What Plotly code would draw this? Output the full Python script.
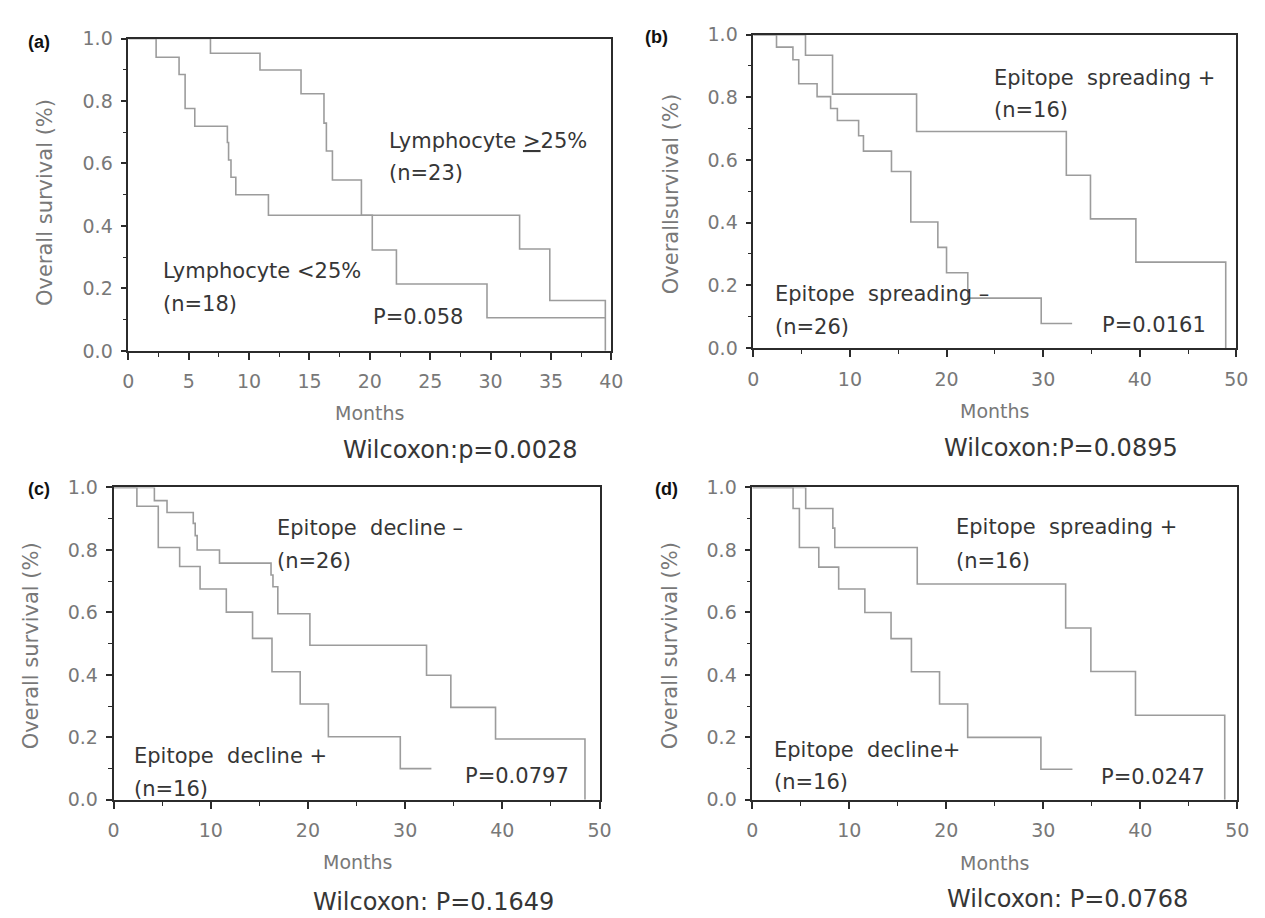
import plotly.graph_objects as go

W, H = 1265, 918

# ---------------- data ----------------
# Panel (a)
a_low_t = [0, 2.3, 4.2, 4.7, 5.5, 8.2, 8.3, 8.5, 8.9, 11.6, 32.4, 34.9, 39.5]
a_low_s = [1.0, 0.94, 0.885, 0.776, 0.719, 0.667, 0.611, 0.556, 0.5, 0.434, 0.326, 0.161, 0.0]
a_high_t = [0, 6.8, 10.9, 14.3, 16.2, 16.4, 16.9, 19.3, 20.2, 22.2, 29.7, 39.5]
a_high_s = [1.0, 0.953, 0.899, 0.823, 0.729, 0.64, 0.547, 0.434, 0.323, 0.214, 0.106, 0.106]

# Panel (b)
b_minus_t = [0, 2.4, 4.1, 4.7, 6.6, 8.0, 8.7, 10.9, 11.4, 14.3, 16.3, 19.1, 20.0, 22.2, 29.8, 33.0]
b_minus_s = [1.0, 0.96, 0.92, 0.843, 0.802, 0.764, 0.726, 0.677, 0.628, 0.563, 0.402, 0.321, 0.24, 0.159, 0.078, 0.078]
b_plus_t = [0, 5.4, 8.2, 16.9, 32.4, 34.9, 39.6, 48.9]
b_plus_s = [1.0, 0.934, 0.81, 0.691, 0.551, 0.412, 0.274, 0.0]

# Panel (c)
c_minus_t = [0, 4.2, 5.5, 8.2, 8.4, 8.6, 10.9, 16.2, 16.4, 16.9, 20.2, 32.2, 34.7, 39.3, 48.5]
c_minus_s = [1.0, 0.958, 0.92, 0.885, 0.846, 0.80, 0.758, 0.72, 0.682, 0.596, 0.495, 0.399, 0.296, 0.195, 0.0]
c_plus_t = [0, 2.4, 4.6, 6.8, 8.9, 11.6, 14.3, 16.3, 19.2, 22.1, 29.5, 32.7]
c_plus_s = [1.0, 0.94, 0.808, 0.747, 0.675, 0.601, 0.517, 0.41, 0.307, 0.202, 0.1, 0.1]

# Panel (d)
d_plus_t = [0, 5.5, 8.3, 8.5, 17.0, 32.3, 34.9, 39.5, 48.7]
d_plus_s = [1.0, 0.933, 0.87, 0.808, 0.691, 0.55, 0.411, 0.271, 0.0]
d_decl_t = [0, 4.2, 4.85, 6.85, 8.9, 11.6, 14.3, 16.4, 19.3, 22.2, 29.75, 33.0]
d_decl_s = [1.0, 0.933, 0.808, 0.745, 0.675, 0.60, 0.516, 0.41, 0.307, 0.20, 0.098, 0.098]

y_ticks = [0.0, 0.2, 0.4, 0.6, 0.8, 1.0]
y_tick_labels = ["0.0", "0.2", "0.4", "0.6", "0.8", "1.0"]
x_ticks_a = [0, 5, 10, 15, 20, 25, 30, 35, 40]
x_ticks_bcd = [0, 10, 20, 30, 40, 50]

# ---------------- layout helpers ----------------
def px(x):
    return x / W

def py(y):
    return 1 - y / H

FONT = "DejaVu Sans"
CURVE = "#9c9c9c"
AXIS = "#2b2b2b"
TICKC = "#787878"
TEXTC = "#363636"

# pixel boxes: left, right, top, bottom
boxes = {
    "a": (116, 606, 20, 340),
    "b": (750, 1240, 16, 337),
    "c": (101, 594, 480, 800),
    "d": (749, 1241, 480, 800),
}

fig = go.Figure()

curves = [
    ("a", a_low_t, a_low_s), ("a", a_high_t, a_high_s),
    ("b", b_minus_t, b_minus_s), ("b", b_plus_t, b_plus_s),
    ("c", c_minus_t, c_minus_s), ("c", c_plus_t, c_plus_s),
    ("d", d_plus_t, d_plus_s), ("d", d_decl_t, d_decl_s),
]
axmap = {"a": ("x", "y"), "b": ("x2", "y2"), "c": ("x3", "y3"), "d": ("x4", "y4")}

for p, t, s in curves:
    xa, ya = axmap[p]
    fig.add_trace(go.Scatter(x=t, y=s, mode="lines", line=dict(color=CURVE, width=1.6, shape="hv"),
                             xaxis=xa, yaxis=ya, showlegend=False, hoverinfo="skip"))

layout = dict(width=W, height=H, margin=dict(l=0, r=0, t=0, b=0), paper_bgcolor="white",
              plot_bgcolor="white", showlegend=False)

for i, p in enumerate(["a", "b", "c", "d"]):
    l, r, t, b = boxes[p]
    suffix = "" if i == 0 else str(i + 1)
    xmax = 40 if p == "a" else 50
    xt = x_ticks_a if p == "a" else x_ticks_bcd
    minor_dx = 2.5 if p == "a" else 5
    layout["xaxis" + suffix] = dict(
        domain=[px(l), px(r)], anchor="y" + suffix, range=[0, xmax],
        showline=True, linecolor=AXIS, linewidth=1.6, mirror=True,
        ticks="outside", ticklen=7, tickwidth=1.5, tickcolor=AXIS,
        tickvals=xt, ticktext=[str(v) for v in xt],
        minor=dict(dtick=minor_dx, ticks="outside", ticklen=4, tickwidth=1.3, tickcolor=AXIS),
        tickfont=dict(family=FONT, size=19, color=TICKC), ticklabelstandoff=6,
        showgrid=False, zeroline=False, fixedrange=True,
    )
    layout["yaxis" + suffix] = dict(
        domain=[py(b), py(t)], anchor="x" + suffix, range=[0, 1],
        showline=True, linecolor=AXIS, linewidth=1.6, mirror=True,
        ticks="outside", ticklen=6, tickwidth=1.5, tickcolor=AXIS,
        tickvals=y_ticks, ticktext=y_tick_labels,
        minor=dict(dtick=0.1, ticks="outside", ticklen=4, tickwidth=1.3, tickcolor=AXIS),
        tickfont=dict(family=FONT, size=19, color=TICKC), ticklabelstandoff=4,
        showgrid=False, zeroline=False, fixedrange=True,
    )

fig.update_layout(**layout)

ann = []

def dtext(p, x, y, text, size=21, color=TEXTC):
    xa, ya = axmap[p]
    ann.append(dict(xref=xa, yref=ya, x=x, y=y, text=text, showarrow=False,
                    xanchor="left", yanchor="middle",
                    font=dict(family=FONT, size=size, color=color)))

def ptext(x, y, text, size=19, color=TICKC, xanchor="center", angle=0, family=FONT):
    ann.append(dict(xref="paper", yref="paper", x=px(x), y=py(y), text=text, showarrow=False,
                    xanchor=xanchor, yanchor="middle", textangle=angle,
                    font=dict(family=family, size=size, color=color)))

# inner labels
dtext("a", 21.4, 0.672, "Lymphocyte <u>&gt;</u>25%")
dtext("a", 21.4, 0.568, "(n=23)")
dtext("a", 2.7, 0.255, "Lymphocyte &lt;25%")
dtext("a", 2.7, 0.151, "(n=18)")
dtext("a", 20.1, 0.109, "P=0.058")

dtext("b", 24.7, 0.863, "Epitope\u00a0 spreading +")
dtext("b", 24.7, 0.759, "(n=16)")
dtext("b", 2.0, 0.172, "Epitope\u00a0 spreading –")
dtext("b", 2.0, 0.068, "(n=26)")
dtext("b", 35.9, 0.073, "P=0.0161")

dtext("c", 16.6, 0.87, "Epitope\u00a0 decline –")
dtext("c", 16.6, 0.766, "(n=26)")
dtext("c", 1.9, 0.139, "Epitope\u00a0 decline +")
dtext("c", 1.9, 0.036, "(n=16)")
dtext("c", 35.9, 0.075, "P=0.0797")

dtext("d", 20.8, 0.875, "Epitope\u00a0 spreading +")
dtext("d", 20.8, 0.766, "(n=16)")
dtext("d", 2.0, 0.158, "Epitope\u00a0 decline+")
dtext("d", 2.0, 0.057, "(n=16)")
dtext("d", 35.7, 0.073, "P=0.0247")

# axis titles
ptext(361, 404, "Months")
ptext(995, 402, "Months")
ptext(348, 864, "Months")
ptext(995, 865, "Months")

ptext(32, 188, "Overall survival (%)", size=21, angle=-90)
ptext(666, 180, "Overallsurvival (%)", size=21, angle=-90)
ptext(17, 642, "Overall survival (%)", size=21, angle=-90)
ptext(665, 642, "Overall survival (%)", size=21, angle=-90)

# Wilcoxon lines
ptext(452, 442, "Wilcoxon:p=0.0028", size=24, color=TEXTC)
ptext(1062, 440, "Wilcoxon:P=0.0895", size=24, color=TEXTC)
ptext(426, 905, "Wilcoxon: P=0.1649", size=24, color=TEXTC)
ptext(1069, 902, "Wilcoxon: P=0.0768", size=24, color=TEXTC)

# panel letters
for x, y, t in [(25, 24, "(a)"), (652, 18, "(b)"), (25, 482, "(c)"), (662, 482, "(d)")]:
    ptext(x, y, "<b>" + t + "</b>", size=18, color="#111111", family="Liberation Sans")

fig.update_layout(annotations=ann)
fig.write_html("out.html")
